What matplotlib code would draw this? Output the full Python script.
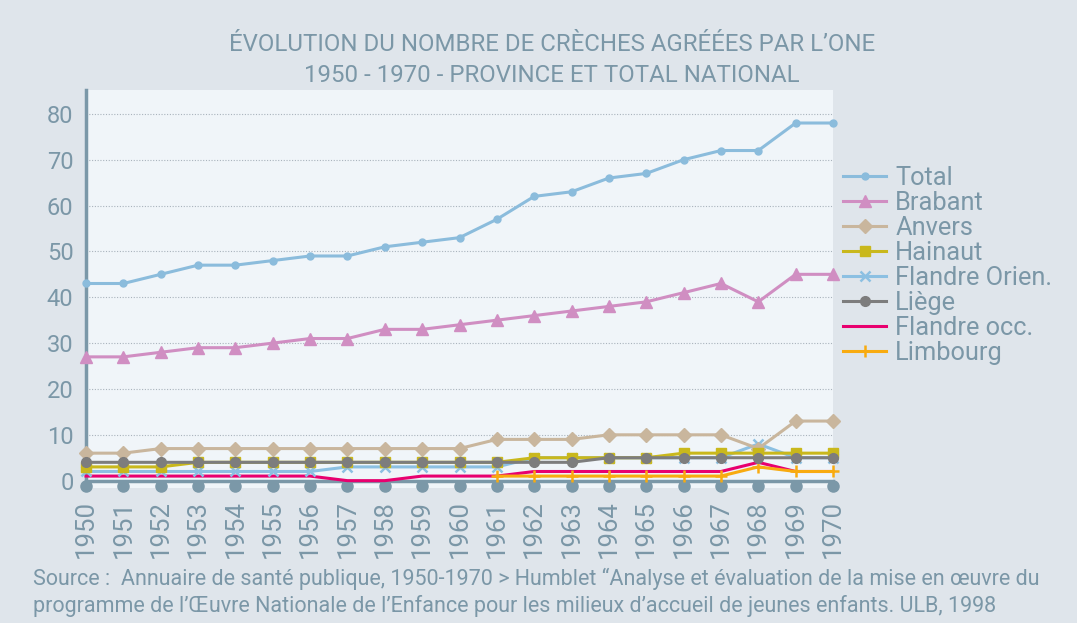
import matplotlib
matplotlib.use("Agg")
import matplotlib.pyplot as plt
import numpy as np

years = list(range(1950, 1971))
total = [43, 43, 45, 47, 47, 48, 49, 49, 51, 52, 53, 57, 62, 63, 66, 67, 70, 72, 72, 78, 78]
brabant = [27, 27, 28, 29, 29, 30, 31, 31, 33, 33, 34, 35, 36, 37, 38, 39, 41, 43, 39, 45, 45]
anvers = [6, 6, 7, 7, 7, 7, 7, 7, 7, 7, 7, 9, 9, 9, 10, 10, 10, 10, 7, 13, 13]
hainaut = [3, 3, 3, 4, 4, 4, 4, 4, 4, 4, 4, 4, 5, 5, 5, 5, 6, 6, 6, 6, 6]
flandre_orien = [2, 2, 2, 2, 2, 2, 2, 3, 3, 3, 3, 3, 5, 5, 5, 5, 5, 5, 8, 5, 5]
liege = [4, 4, 4, 4, 4, 4, 4, 4, 4, 4, 4, 4, 4, 4, 5, 5, 5, 5, 5, 5, 5]
flandre_occ = [1, 1, 1, 1, 1, 1, 1, 0, 0, 1, 1, 1, 2, 2, 2, 2, 2, 2, 4, 2, 2]
limbourg = [None] * 11 + [1, 1, 1, 1, 1, 1, 1, 3, 2, 2]

title = "ÉVOLUTION DU NOMBRE DE CRÈCHES AGRÉÉES PAR L’ONE\n1950 - 1970 - PROVINCE ET TOTAL NATIONAL"
source = ("Source :  Annuaire de santé publique, 1950-1970 > Humblet “Analyse et évaluation de la mise en œuvre du\n"
          "programme de l’Œuvre Nationale de l’Enfance pour les milieux d’accueil de jeunes enfants. ULB, 1998")

plt.rcParams['font.family'] = ['Roboto', 'DejaVu Sans']
TXT = '#7b97a7'
AX = '#7b98a8'

fig = plt.figure(figsize=(10.77, 6.23), dpi=100, facecolor='#dfe5eb')
ax = fig.add_axes([86/1077, 1-488/623, (833-86)/1077, (488-90)/623])
ax.set_facecolor('#f0f5f9')

def arr(v):
    return np.array([np.nan if x is None else x for x in v], dtype=float)

series = [
    ("Total", total, '#8bbcdc', 'o', 5, 2.2),
    ("Brabant", brabant, '#d08ec2', '^', 8, 2.2),
    ("Anvers", anvers, '#c9b69d', 'D', 7, 2.2),
    ("Hainaut", hainaut, '#c9b81c', 's', 7, 2.2),
    ("Flandre Orien.", flandre_orien, '#8cc0e2', 'x', 7, 2.2),
    ("Liège", liege, '#7d7d7d', 'o', 7, 2.2),
    ("Flandre occ.", flandre_occ, '#e8006f', None, 0, 2.2),
    ("Limbourg", limbourg, '#f8ab10', '+', 8, 2.2),
]
zorders = {"Total": 5, "Brabant": 5, "Anvers": 5, "Hainaut": 6, "Flandre Orien.": 4,
           "Liège": 7, "Flandre occ.": 3, "Limbourg": 3}
for name, vals, col, mk, ms, lw in series:
    ax.plot(years, arr(vals), color=col, marker=mk, markersize=ms, lw=lw,
            markeredgewidth=1.8 if mk in ('x', '+') else 1, label=name,
            clip_on=False, zorder=zorders[name])

ax.set_xlim(1950, 1970)
ax.set_ylim(-1.6, 85.2)
ax.set_yticks(range(0, 81, 10))
ax.set_xticks(years)
ax.set_xticklabels([str(y) for y in years])
for y in range(10, 81, 10):
    ax.axhline(y, color='#a9b3bc', lw=0.8, ls=(0, (1, 1.5)), zorder=1)

for s in ['top', 'right']:
    ax.spines[s].set_visible(False)
ax.spines['bottom'].set_position(('data', 0))
ax.spines['bottom'].set_color(AX)
ax.spines['bottom'].set_linewidth(2.5)
ax.spines['bottom'].set_zorder(2)
ax.spines['left'].set_color(AX)
ax.spines['left'].set_linewidth(2.5)
ax.tick_params(axis='y', length=0, pad=9, labelsize=17, labelcolor=TXT)
ax.tick_params(axis='x', length=5, width=1.5, color=AX, pad=9, labelsize=18.5,
               labelcolor=TXT, labelrotation=90)
ax.plot(years, [0.004] * len(years), 'o', color=AX, markersize=8,
        transform=ax.get_xaxis_transform(), clip_on=False, zorder=2)

fig.text(552/1077, 1-60/623, title, ha='center', va='center', fontsize=17.3,
         color=TXT, linespacing=1.45)
fig.text(33/1077, 1-592/623, source, ha='left', va='center', fontsize=15.5,
         color=TXT, linespacing=1.3)

leg = ax.legend(loc='upper left', bbox_to_anchor=(843/1077, 1-166/623),
                bbox_transform=fig.transFigure, frameon=False, fontsize=18.3,
                handlelength=1.7, handletextpad=0.35, labelspacing=0.04,
                borderpad=0, borderaxespad=0)
for t in leg.get_texts():
    t.set_color(TXT)

fig.savefig('out.png', dpi=100, facecolor=fig.get_facecolor())
